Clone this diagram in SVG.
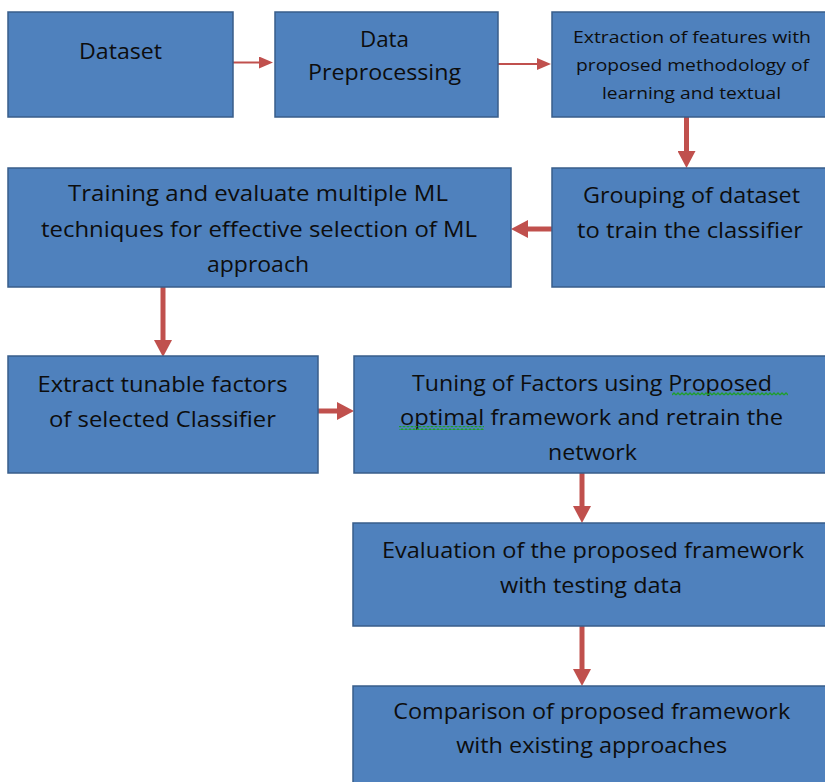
<svg xmlns="http://www.w3.org/2000/svg" width="825" height="782" viewBox="0 0 825 782">
<style>
.box{fill:#4F81BD;stroke:#385D8A;stroke-width:1.5}
.t{font-family:"Open Sans","Liberation Sans",sans-serif;font-size:22.5px;fill:#0d0d0d;text-anchor:middle}
.s{font-size:17px}
.thick{stroke:#C0504D;stroke-width:5;fill:none;marker-end:url(#big)}
.thin{stroke:#C0504D;stroke-width:2;fill:none;marker-end:url(#small)}
</style>
<defs>
<marker id="big" viewBox="0 0 17 18" refX="5" refY="9" markerWidth="17" markerHeight="18" markerUnits="userSpaceOnUse" orient="auto">
<path d="M0,0 L17,9 L0,18 Z" fill="#C0504D"/>
</marker>
<marker id="small" viewBox="0 0 14 12" refX="4" refY="6" markerWidth="14" markerHeight="12" markerUnits="userSpaceOnUse" orient="auto">
<path d="M0,0 L14,6 L0,12 Z" fill="#C0504D"/>
</marker>
<pattern id="wave" patternUnits="userSpaceOnUse" x="0" y="0" width="4" height="4">
<path d="M0,3 L2,1 L4,3" stroke="#1F9E2C" stroke-width="1.3" fill="none"/>
</pattern>
</defs>
<rect width="825" height="782" fill="#fff"/>

<g id="connectors">
<path class="thin" d="M233,62.5 H263"/>
<path class="thin" d="M498,64 H541"/>
<path class="thick" d="M686.5,117 V156"/>
<path class="thick" d="M552,229 H523"/>
<path class="thick" d="M163,287 V345"/>
<path class="thick" d="M318,411 H342"/>
<path class="thick" d="M582,473 V511"/>
<path class="thick" d="M582,626 V674"/>
</g>

<g id="n1">
<rect class="box" x="8" y="12" width="225" height="105"/>
<text class="t" x="120.5" y="59" textLength="83" lengthAdjust="spacingAndGlyphs">Dataset</text>
</g>
<g id="n2">
<rect class="box" x="275" y="12" width="223" height="105"/>
<text class="t" x="384.5" y="47" textLength="49" lengthAdjust="spacingAndGlyphs">Data</text>
<text class="t" x="384.5" y="80" textLength="153" lengthAdjust="spacingAndGlyphs">Preprocessing</text>
</g>
<g id="n3">
<rect class="box" x="552" y="12" width="280" height="105"/>
<text class="t s" x="692" y="43" textLength="238" lengthAdjust="spacingAndGlyphs">Extraction of features with</text>
<text class="t s" x="692.5" y="71" textLength="233" lengthAdjust="spacingAndGlyphs">proposed methodology of</text>
<text class="t s" x="691.5" y="99" textLength="179" lengthAdjust="spacingAndGlyphs">learning and textual</text>
</g>
<g id="n4">
<rect class="box" x="552" y="168" width="280" height="119"/>
<text class="t" x="691.5" y="203" textLength="217" lengthAdjust="spacingAndGlyphs">Grouping of dataset</text>
<text class="t" x="690" y="238" textLength="226" lengthAdjust="spacingAndGlyphs">to train the classifier</text>
</g>
<g id="n5">
<rect class="box" x="8" y="168" width="503" height="119"/>
<text class="t" x="258" y="200.5" textLength="380" lengthAdjust="spacingAndGlyphs">Training and evaluate multiple ML</text>
<text class="t" x="259" y="237" textLength="436" lengthAdjust="spacingAndGlyphs">techniques for effective selection of ML</text>
<text class="t" x="258" y="272" textLength="102" lengthAdjust="spacingAndGlyphs">approach</text>
</g>
<g id="n6">
<rect class="box" x="8" y="356" width="310" height="117"/>
<text class="t" x="162.5" y="391.5" textLength="250" lengthAdjust="spacingAndGlyphs">Extract tunable factors</text>
<text class="t" x="162.5" y="426.5" textLength="227" lengthAdjust="spacingAndGlyphs">of selected Classifier</text>
</g>
<g id="n7">
<rect class="box" x="354" y="356" width="478" height="117"/>
<text class="t" x="592" y="391" textLength="360" lengthAdjust="spacingAndGlyphs">Tuning of Factors using Proposed</text>
<text class="t" x="591.5" y="425" textLength="383" lengthAdjust="spacingAndGlyphs">optimal framework and retrain the</text>
<text class="t" x="592.5" y="460" textLength="89" lengthAdjust="spacingAndGlyphs">network</text>
<rect x="672" y="392" width="116" height="4" fill="url(#wave)"/>
<rect x="399" y="426" width="85" height="4" fill="url(#wave)"/>
</g>
<g id="n8">
<rect class="box" x="353" y="523" width="479" height="103"/>
<text class="t" x="593" y="558" textLength="422" lengthAdjust="spacingAndGlyphs">Evaluation of the proposed framework</text>
<text class="t" x="591" y="593" textLength="182" lengthAdjust="spacingAndGlyphs">with testing data</text>
</g>
<g id="n9">
<rect class="box" x="353" y="686" width="479" height="110"/>
<text class="t" x="591.7" y="719" textLength="397" lengthAdjust="spacingAndGlyphs">Comparison of proposed framework</text>
<text class="t" x="591.7" y="753" textLength="271" lengthAdjust="spacingAndGlyphs">with existing approaches</text>
</g>
</svg>
